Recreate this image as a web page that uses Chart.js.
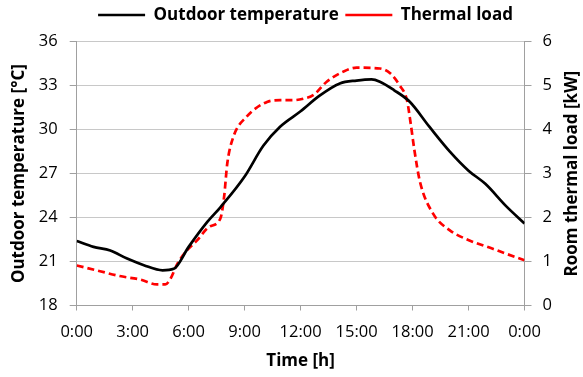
<!DOCTYPE html>
<html><head><meta charset="utf-8">
<script src="https://cdn.jsdelivr.net/npm/chart.js@4"></script>
<style>html,body{margin:0;padding:0;background:#fff}#wrap{width:583px;height:377px}</style>
</head><body><div id="wrap"><canvas id="c" width="583" height="377"></canvas></div>
<script>
const timeLabels = ['0:00','3:00','6:00','9:00','12:00','15:00','18:00','21:00','0:00'];
const tempHours = [0,0.9,1.8,2.7,3.6,4.6,5.2,6,7,7.7,9,10,10.9,12,13,14.1,15,15.8,16.25,17,17.85,18.9,20,21,21.9,23,24];
const tempValues = [22.4,22.0,21.75,21.2,20.75,20.4,20.5,22.0,23.7,24.7,26.8,28.9,30.2,31.25,32.3,33.15,33.35,33.43,33.27,32.7,31.9,30.2,28.5,27.2,26.3,24.8,23.6];
const loadHours = [0,1.25,2.3,3.4,4.3,4.75,5.0,5.4,5.9,6.45,7.1,7.7,7.9,8.07,8.4,9.1,10.2,10.9,11.6,12.2,12.7,13.4,14.3,15,16.25,16.8,17.3,17.7,17.9,18.1,18.4,19.1,20,21.05,22.3,23,24];
const loadValues = [0.91,0.78,0.67,0.59,0.48,0.48,0.59,0.95,1.25,1.48,1.79,1.98,2.47,3.23,3.84,4.29,4.63,4.67,4.67,4.71,4.79,5.09,5.32,5.41,5.39,5.28,5.01,4.67,4.14,3.53,2.81,2.09,1.71,1.48,1.29,1.18,1.03];

const FONT = '"Open Sans"';
const TICK = { family: FONT, size: 16.5 };
const BOLD = { family: FONT, size: 17, weight: 'bold' };
const rightTitle = {
  id: 'rightTitle',
  afterDraw(chart) {
    const ctx = chart.ctx, a = chart.chartArea;
    ctx.save();
    ctx.translate(572, (a.top + a.bottom) / 2);
    ctx.rotate(-Math.PI / 2);
    ctx.font = 'bold 17px ' + FONT;
    ctx.fillStyle = '#000';
    ctx.textAlign = 'center';
    ctx.textBaseline = 'middle';
    ctx.fillText('Room thermal load [kW]', 0, 0);
    ctx.restore();
  }
};

new Chart(document.getElementById('c'), {
  type: 'line',
  data: {
    datasets: [
      { label: 'Outdoor temperature', data: tempHours.map((h, i) => ({x: h, y: tempValues[i]})),
        borderColor: '#000', borderWidth: 2.7, pointRadius: 0, cubicInterpolationMode: 'monotone', yAxisID: 'y' },
      { label: 'Thermal load', data: loadHours.map((h, i) => ({x: h, y: loadValues[i]})),
        borderColor: '#ff0000', borderWidth: 2.7, borderDash: [7, 4], pointRadius: 0, cubicInterpolationMode: 'monotone', yAxisID: 'y1' }
    ]
  },
  options: {
    responsive: false, animation: false, devicePixelRatio: 1,
    layout: { padding: { top: 0, left: 28, right: 0, bottom: 0 } },
    plugins: {
      legend: { position: 'top', align: 'center',
        labels: { usePointStyle: true, pointStyle: 'line', pointStyleWidth: 47, boxHeight: 10, color: '#000',
          font: BOLD, padding: 6.5 } },
      title: { display: true, text: '', position: 'top', weight: 500, font: { size: 8.2, lineHeight: 1 }, padding: 0 },
      tooltip: { enabled: false }
    },
    scales: {
      x: { type: 'linear', min: 0, max: 24,
        ticks: { stepSize: 3, color: '#000', font: TICK, padding: 12,
          callback: (v) => timeLabels[Math.round(v / 3)] },
        grid: { drawOnChartArea: false, drawTicks: true, tickLength: 5, color: '#a0a0a0' },
        border: { color: '#a0a0a0', width: 1 },
        title: { display: true, text: 'Time [h]', color: '#000', font: BOLD, padding: { top: 4, bottom: 6 } },
        afterFit(s) { s.height = 71.5; } },
      y: { position: 'left', min: 18, max: 36,
        ticks: { stepSize: 3, color: '#000', font: TICK, padding: 12 },
        grid: { color: '#c8c8c8', tickColor: '#a0a0a0', tickLength: 7 },
        border: { color: '#a0a0a0', width: 1 },
        title: { display: true, text: 'Outdoor temperature [°C]', color: '#000', font: BOLD, padding: { top: -19.2, bottom: 0 } },
        afterFit(s) { s.width = 48.7; } },
      y1: { position: 'right', min: 0, max: 6,
        ticks: { stepSize: 1, color: '#000', font: TICK, padding: 11 },
        grid: { drawOnChartArea: false, tickColor: '#a0a0a0', tickLength: 7 },
        border: { color: '#a0a0a0', width: 1 },
        afterFit(s) { s.width = 58.5; } }
    }
  },
  plugins: [rightTitle]
});
</script></body></html>
